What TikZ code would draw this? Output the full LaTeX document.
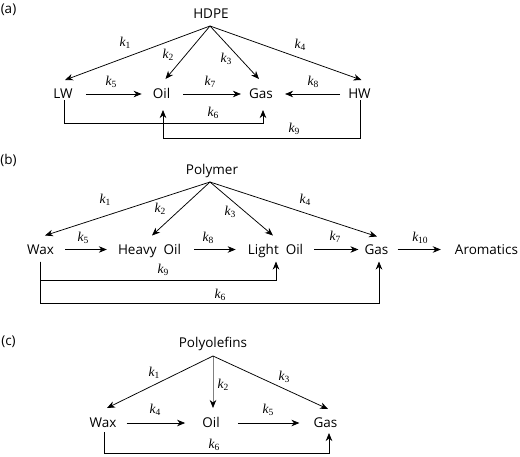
\documentclass[tikz,border=0pt]{standalone}
\usepackage{fontspec}
\setmainfont{Open Sans}
\newfontfamily\kfont{Liberation Serif}
\usetikzlibrary{arrows.meta,calc}
\newcommand\kk[1]{{\kfont\fontsize{13.5}{14}\selectfont\itshape k}\raisebox{-2.5pt}{\kfont\fontsize{9.5}{10}\selectfont #1}}
\begin{document}
\begin{tikzpicture}[x=1pt,y=-1pt,
  txt/.style={font=\fontsize{13.5}{16}\selectfont, inner sep=0pt, text height=9.6pt, text depth=0pt},
  lab/.style={inner sep=0pt},
  arr/.style={-{Stealth[length=8pt,width=6.5pt,inset=2.5pt]}, line width=0.75pt},
  grayarr/.style={-{Stealth[length=8pt,width=6.5pt,inset=2.5pt,black]}, line width=0.75pt, draw=black!50}]
\useasboundingbox (0,0) rectangle (520,456);
% ---------- (a)
\node[txt] (pa) at (8.5,9) {(a)};
\node[txt] (HDPE) at (211,13.5) {HDPE};
\coordinate (aTop) at ($(HDPE.south)+(-1,7.5)$);
\node[txt] (LW) at (63,94) {LW};
\node[txt] (aOil) at (161.5,94) {Oil};
\node[txt] (aGas) at (261,94) {Gas};
\node[txt] (HW) at (359.5,94) {HW};
\draw[arr] (aTop) -- ($(LW.north)+(2,-9)$);
\draw[arr] (aTop) -- ($(aOil.north)+(4,-10)$);
\draw[arr] (aTop) -- ($(aGas.north)+(-2,-10)$);
\draw[arr] (aTop) -- ($(HW.north)+(2,-9)$);
\draw[arr] ($(LW.east)+(13,0)$) -- ($(aOil.west)+(-11,0)$);
\draw[arr] ($(aOil.east)+(13,0)$) -- ($(aGas.west)+(-8,0)$);
\draw[arr] ($(HW.west)+(-8,0)$) -- ($(aGas.east)+(12,0)$);
\draw[arr] ($(LW.south)+(1,1)$) -- ($(LW.south)+(1,24)$) -| ($(aGas.south)+(2,11)$);
\draw[arr] ($(HW.south)+(1,1)$) -- ($(HW.south)+(1,39)$) -| ($(aOil.south)+(1.5,11)$);
\node[lab] (ak1) at (125,43) {\kk{1}};
\node[lab] (ak2) at (168,55) {\kk{2}};
\node[lab] (ak3) at (226,59) {\kk{3}};
\node[lab] (ak4) at (300,45) {\kk{4}};
\node[lab] (ak5) at (111,82) {\kk{5}};
\node[lab] (ak7) at (210,82) {\kk{7}};
\node[lab] (ak8) at (313,82) {\kk{8}};
\node[lab] (ak6) at (213,113) {\kk{6}};
\node[lab] (ak9) at (294,129) {\kk{9}};
% ---------- (b)
\node[txt] (pb) at (8.5,160) {(b)};
\node[txt] (Poly) at (212,169.5) {Polymer};
\coordinate (bTop) at ($(Poly.south)+(-2,7.5)$);
\node[txt] (Wax) at (40.5,249.5) {Wax};
\node[txt] (HO) at (149.5,249.5) {Heavy\hspace{7pt}Oil};
\node[txt] (LO) at (275.5,249.5) {Light\hspace{7pt}Oil};
\node[txt] (bGas) at (376.5,249.5) {Gas};
\node[txt] (Aro) at (486.5,249.5) {Aromatics};
\draw[arr] (bTop) -- ($(Wax.north)+(4.5,-9)$);
\draw[arr] (bTop) -- ($(HO.north)+(2.5,-9)$);
\draw[arr] (bTop) -- ($(LO.north)+(-2.5,-9)$);
\draw[arr] (bTop) -- ($(bGas.north)+(0.5,-8)$);
\draw[arr] ($(Wax.east)+(11,0)$) -- ($(HO.west)+(-11,0)$);
\draw[arr] ($(HO.east)+(13,0)$) -- ($(LO.west)+(-12,0)$);
\draw[arr] ($(LO.east)+(11,0)$) -- ($(bGas.west)+(-6,0)$);
\draw[arr] ($(bGas.east)+(9,0)$) -- ($(Aro.west)+(-14,0)$);
\draw[arr] ($(Wax.south)+(0,7)$) -- ($(Wax.south)+(0,26)$) -| ($(LO.south)+(0.5,7)$);
\draw[arr] ($(Wax.south)+(0,7)$) -- ($(Wax.south)+(0,49)$) -| ($(bGas.south)+(2.5,7)$);
\node[lab] (bk1) at (105,200) {\kk{1}};
\node[lab] (bk2) at (160,209) {\kk{2}};
\node[lab] (bk3) at (230,212) {\kk{3}};
\node[lab] (bk4) at (305,200) {\kk{4}};
\node[lab] (bk5) at (83,238) {\kk{5}};
\node[lab] (bk8) at (208,238) {\kk{8}};
\node[lab] (bk7) at (335,237) {\kk{7}};
\node[lab] (bk10) at (420,238) {\kk{10}};
\node[lab] (bk9) at (163,270) {\kk{9}};
\node[lab] (bk6) at (220,295) {\kk{6}};
% ---------- (c)
\node[txt] (pc) at (8.5,341) {(c)};
\node[txt] (Polyo) at (213,342.5) {Polyolefins};
\coordinate (cTop) at ($(Polyo.south)+(0,8.5)$);
\node[txt] (cWax) at (103,423) {Wax};
\node[txt] (cOil) at (211,423) {Oil};
\node[txt] (cGas) at (325.5,423) {Gas};
\draw[arr] (cTop) -- ($(cWax.north)+(4,-10)$);
\draw[grayarr] (cTop) -- ($(cOil.north)+(2,-10)$);
\draw[arr] (cTop) -- ($(cGas.north)+(2.5,-9)$);
\draw[arr] ($(cWax.east)+(10,0)$) -- ($(cOil.west)+(-17,0)$);
\draw[arr] ($(cOil.east)+(18,0)$) -- ($(cGas.west)+(-14,0)$);
\draw[arr] ($(cWax.south)+(1,4)$) -- ($(cWax.south)+(1,25)$) -| ($(cGas.south)+(3.5,5)$);
\node[lab] (ck1) at (154,373) {\kk{1}};
\node[lab] (ck2) at (223,385) {\kk{2}};
\node[lab] (ck3) at (284,377) {\kk{3}};
\node[lab] (ck4) at (155,410) {\kk{4}};
\node[lab] (ck5) at (268,410) {\kk{5}};
\node[lab] (ck6) at (214,445) {\kk{6}};
\end{tikzpicture}
\end{document}
